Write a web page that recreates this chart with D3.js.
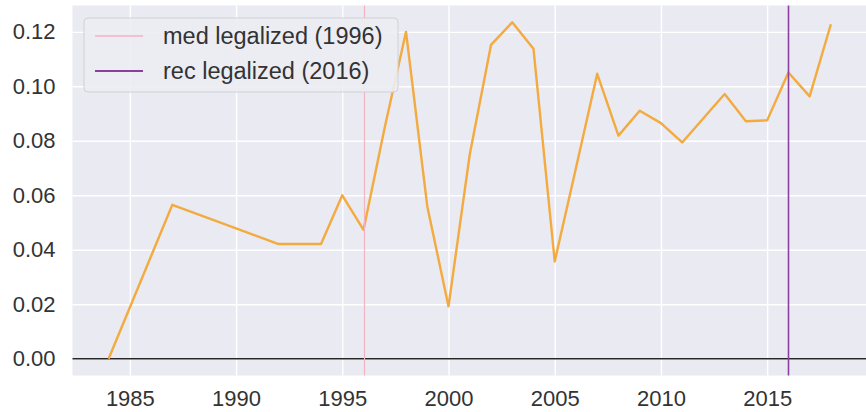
<!DOCTYPE html>
<html>
<head>
<meta charset="utf-8">
<script src="https://cdn.jsdelivr.net/npm/d3@7"></script>
<style>
  body { margin: 0; background: #fff; }
  svg { display: block; font-family: "Liberation Sans", Arial, sans-serif; }
</style>
</head>
<body>
<div id="chart"></div>
<script>
const years = [1984, 1987, 1992, 1994, 1995, 1996, 1997, 1998, 1999, 2000, 2001, 2002, 2003, 2004,
  2005, 2006, 2007, 2008, 2009, 2010, 2011, 2012, 2013, 2014, 2015, 2016, 2017, 2018];
const rates = [0.0, 0.0565, 0.0421, 0.0421, 0.0600, 0.0473, 0.0850, 0.1200, 0.0560, 0.0192, 0.0750, 0.1152, 0.1235, 0.1138,
  0.0357, 0.0700, 0.1046, 0.0819, 0.0910, 0.0865, 0.0794, 0.0883, 0.0972, 0.0872, 0.0875, 0.1051, 0.0963, 0.1228];
const markerYears = [1996, 2016];
const markerLabels = ['med legalized (1996)', 'rec legalized (2016)'];
const markerColors = ['#f5b3c1', '#8c3f9e'];
const xTicks = [1985, 1990, 1995, 2000, 2005, 2010, 2015];
const yTicks = [0.0, 0.02, 0.04, 0.06, 0.08, 0.10, 0.12];

const width = 866;
const height = 412;

const svg = d3.select('#chart')
  .append('svg')
  .attr('width', width)
  .attr('height', height);

// matplotlib-style 5% margins around the data
const xPad = (d3.max(years) - d3.min(years)) * 0.05;
const yPad = (d3.max(rates) - d3.min(rates)) * 0.05;

const x = d3.scaleLinear()
  .domain([d3.min(years) - xPad, d3.max(years) + xPad])
  .range([72.5, 867]);

const y = d3.scaleLinear()
  .domain([d3.min(rates) - yPad, d3.max(rates) + yPad])
  .range([375.5, 5.5]);

// plot background
svg.append('rect')
  .attr('x', x.range()[0])
  .attr('y', y.range()[1])
  .attr('width', x.range()[1] - x.range()[0])
  .attr('height', y.range()[0] - y.range()[1])
  .attr('fill', '#eaeaf2');

// grid
svg.append('g')
  .attr('transform', `translate(0, ${y.range()[0]})`)
  .call(d3.axisBottom(x).tickValues(xTicks).tickFormat(d3.format('d'))
    .tickSize(-(y.range()[0] - y.range()[1])).tickPadding(15))
  .call(g => g.select('.domain').remove())
  .call(g => g.selectAll('.tick line').attr('stroke', '#fff').attr('stroke-width', 1.4))
  .call(g => g.selectAll('.tick text')
    .attr('fill', '#333').attr('font-size', 22).attr('font-family', '"Liberation Sans", Arial, sans-serif'));

svg.append('g')
  .attr('transform', `translate(${x.range()[0]}, 0)`)
  .call(d3.axisLeft(y).tickValues(yTicks).tickFormat(d3.format('.2f'))
    .tickSize(-(x.range()[1] - x.range()[0])).tickPadding(17))
  .call(g => g.select('.domain').remove())
  .call(g => g.selectAll('.tick line').attr('stroke', '#fff').attr('stroke-width', 1.4))
  .call(g => g.selectAll('.tick text')
    .attr('fill', '#333').attr('font-size', 22).attr('font-family', '"Liberation Sans", Arial, sans-serif'));

// zero line
svg.append('line')
  .attr('x1', x.range()[0])
  .attr('x2', x.range()[1])
  .attr('y1', y(0))
  .attr('y2', y(0))
  .attr('stroke', '#262626')
  .attr('stroke-width', 1.5);

// rate line
const line = d3.line()
  .x((d, i) => x(years[i]))
  .y(d => y(d));

svg.append('path')
  .datum(rates)
  .attr('d', line)
  .attr('fill', 'none')
  .attr('stroke', '#f3aa3f')
  .attr('stroke-width', 2.4)
  .attr('stroke-linejoin', 'round');

// legalization markers
svg.selectAll('.marker')
  .data(markerYears)
  .join('line')
  .attr('class', 'marker')
  .attr('x1', d => Math.round(x(d)) + 0.5)
  .attr('x2', d => Math.round(x(d)) + 0.5)
  .attr('y1', y.range()[1])
  .attr('y2', y.range()[0])
  .attr('stroke', (d, i) => markerColors[i])
  .attr('stroke-width', (d, i) => i === 0 ? 1.2 : 1.6);

// legend
const legend = svg.append('g');

legend.append('rect')
  .attr('x', 84)
  .attr('y', 18)
  .attr('width', 314)
  .attr('height', 74)
  .attr('rx', 4)
  .attr('fill', '#ececf3')
  .attr('fill-opacity', 0.9)
  .attr('stroke', '#d0d0d8')
  .attr('stroke-width', 1);

const rows = legend.selectAll('.row')
  .data(markerLabels)
  .join('g')
  .attr('class', 'row')
  .attr('transform', (d, i) => `translate(0, ${36 + i * 35})`);

rows.append('line')
  .attr('x1', 95)
  .attr('x2', 143)
  .attr('stroke', (d, i) => markerColors[i])
  .attr('stroke-width', (d, i) => i === 0 ? 1.4 : 1.8);

rows.append('text')
  .attr('x', 163)
  .attr('dy', '0.35em')
  .attr('font-size', 23.5)
  .attr('fill', '#333')
  .text(d => d);
</script>
</body>
</html>
